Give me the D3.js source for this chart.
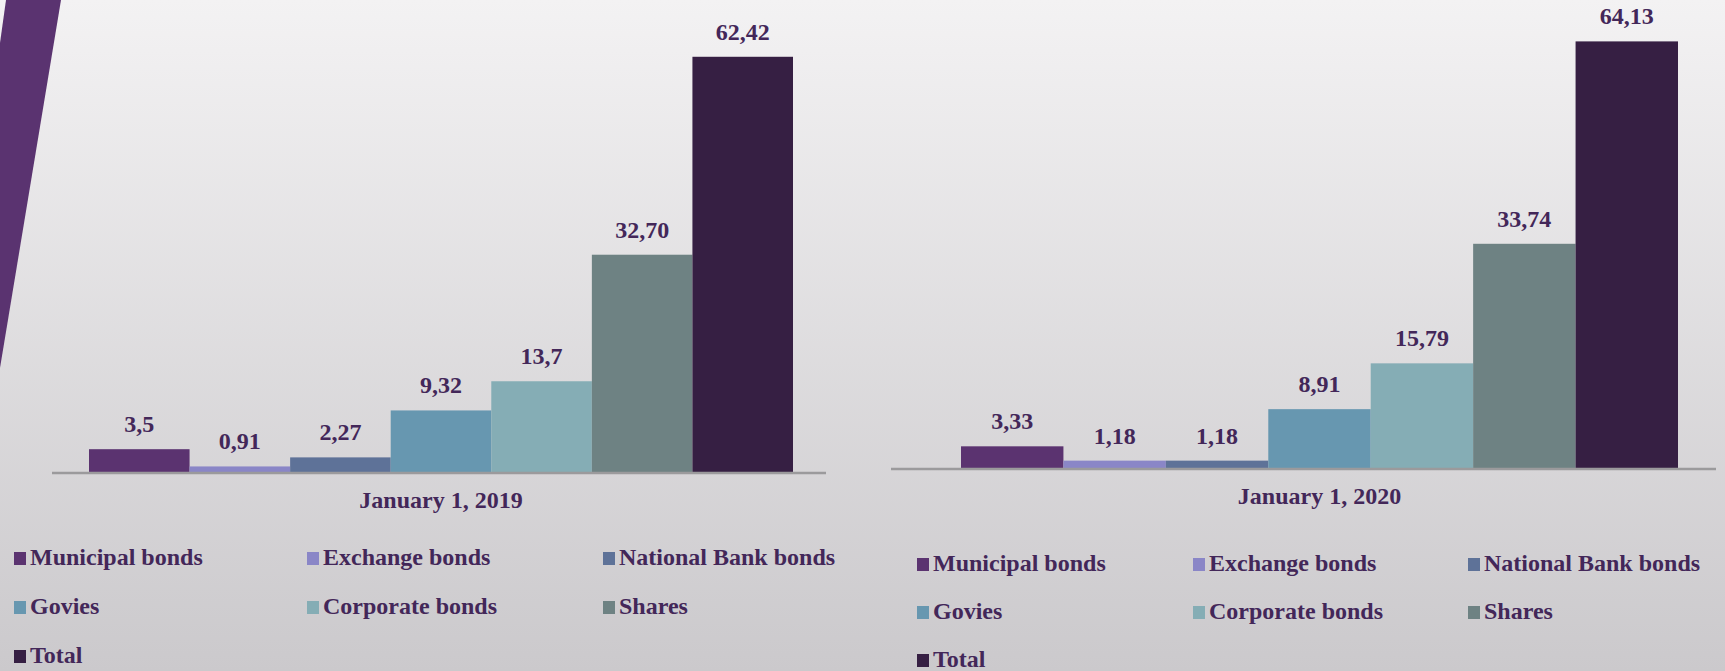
<!DOCTYPE html>
<html>
<head>
<meta charset="utf-8">
<script src="https://cdn.jsdelivr.net/npm/d3@7"></script>
<style>
  html, body { margin: 0; padding: 0; overflow: hidden; }
  svg { display: block; }
</style>
</head>
<body>
<svg id="chart" width="1725" height="671"></svg>
<script>
// 1) Data

var categories = ['Municipal bonds', 'Exchange bonds', 'National Bank bonds', 'Govies', 'Corporate bonds', 'Shares', 'Total'];
var values2019 = [3.5, 0.91, 2.27, 9.32, 13.7, 32.70, 62.42];
var labels2019 = ['3,5', '0,91', '2,27', '9,32', '13,7', '32,70', '62,42'];
var values2020 = [3.33, 1.18, 1.18, 8.91, 15.79, 33.74, 64.13];
var labels2020 = ['3,33', '1,18', '1,18', '8,91', '15,79', '33,74', '64,13'];
var dates = ['January 1, 2019', 'January 1, 2020'];

var colors = ['#5b3370', '#8a86c7', '#5e7298', '#6797b0', '#85adb5', '#6e8283', '#361f43'];
var textColor = '#432759';
var font = '"Liberation Serif", "Times New Roman", serif';

// 2) Background

var svg = d3.select('#chart');
var defs = svg.append('defs');
var grad = defs.append('linearGradient')
    .attr('id', 'bg')
    .attr('x1', 0).attr('y1', 0).attr('x2', 0).attr('y2', 1);
grad.append('stop').attr('offset', '0%').attr('stop-color', '#f3f2f3');
grad.append('stop').attr('offset', '100%').attr('stop-color', '#cbc9cc');

svg.append('rect')
    .attr('width', 1725).attr('height', 671)
    .attr('fill', 'url(#bg)');

// purple slanted stripe at top left
svg.append('polygon')
    .attr('points', '6,0 61,0 0,368 0,43')
    .attr('fill', '#5a3370');

// 3) One chart panel

var drawPanel = function (opt) {
   var g = svg.append('g');

   var x = d3.scaleBand()
       .domain(categories)
       .range([opt.barLeft, opt.barRight])
       .padding(0);

   var y = d3.scaleLinear()
       .domain([0, 70])
       .range([opt.baseline, opt.baseline - 70 * 6.66]);

   // bars
   g.selectAll('rect.bar')
       .data(opt.values)
     .enter().append('rect')
       .attr('class', 'bar')
       .attr('x', function (d, i) { return x(categories[i]); })
       .attr('y', function (d) { return y(d); })
       .attr('width', x.bandwidth())
       .attr('height', function (d) { return y(0) - y(d); })
       .attr('fill', function (d, i) { return colors[i]; });

   // axis line
   g.append('line')
       .attr('x1', opt.axisLeft).attr('x2', opt.axisRight)
       .attr('y1', opt.baseline + 0.5).attr('y2', opt.baseline + 0.5)
       .attr('stroke', '#9b9a9c')
       .attr('stroke-width', 2.5);

   // value labels
   g.selectAll('text.val')
       .data(opt.values)
     .enter().append('text')
       .attr('class', 'val')
       .attr('x', function (d, i) { return x(categories[i]) + x.bandwidth() / 2; })
       .attr('y', function (d) { return y(d) - 17; })
       .attr('text-anchor', 'middle')
       .attr('font-family', font)
       .attr('font-weight', 'bold')
       .attr('font-size', 24)
       .attr('fill', textColor)
       .text(function (d, i) { return opt.labels[i]; });

   // category label
   g.append('text')
       .attr('x', (opt.barLeft + opt.barRight) / 2)
       .attr('y', opt.baseline + 35)
       .attr('text-anchor', 'middle')
       .attr('font-family', font)
       .attr('font-weight', 'bold')
       .attr('font-size', 24)
       .attr('fill', textColor)
       .text(opt.date);

   // legend, 3 columns
   var item = g.selectAll('g.legend')
       .data(categories)
     .enter().append('g')
       .attr('class', 'legend')
       .attr('transform', function (d, i) {
          return 'translate(' + opt.legendCols[i % 3] + ',' + opt.legendRows[Math.floor(i / 3)] + ')';
       });

   item.append('rect')
       .attr('x', 0).attr('y', -13)
       .attr('width', 12).attr('height', 13)
       .attr('fill', function (d, i) { return colors[i]; });

   item.append('text')
       .attr('x', 16).attr('y', 0)
       .attr('font-family', font)
       .attr('font-weight', 'bold')
       .attr('font-size', 24)
       .attr('fill', textColor)
       .text(function (d) { return d; });
};

drawPanel({
   values: values2019, labels: labels2019, date: dates[0],
   barLeft: 89, barRight: 793, axisLeft: 52, axisRight: 826, baseline: 472.5,
   legendCols: [14, 307, 603], legendRows: [565, 614, 663]
});

drawPanel({
   values: values2020, labels: labels2020, date: dates[1],
   barLeft: 961, barRight: 1678, axisLeft: 891, axisRight: 1716, baseline: 468.5,
   legendCols: [917, 1193, 1468], legendRows: [571, 619, 667]
});
</script>
</body>
</html>
